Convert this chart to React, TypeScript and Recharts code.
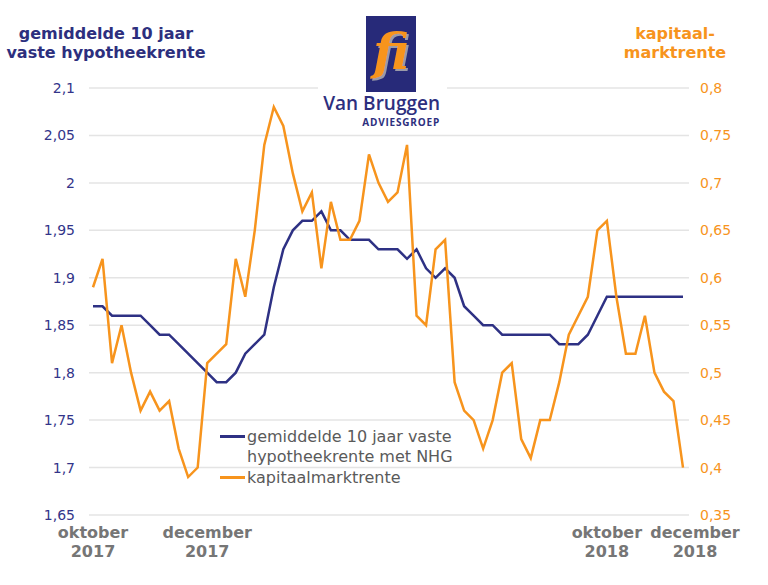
import React from 'react';
import { LineChart, Line, XAxis, YAxis, CartesianGrid, Legend } from 'recharts';

const categories = [
  '2017-W40', '2017-W41', '2017-W42', '2017-W43', '2017-W44', '2017-W45', '2017-W46', '2017-W47',
  '2017-W48', '2017-W49', '2017-W50', '2017-W51', '2017-W52',
  '2018-W01', '2018-W02', '2018-W03', '2018-W04', '2018-W05', '2018-W06', '2018-W07', '2018-W08',
  '2018-W09', '2018-W10', '2018-W11', '2018-W12', '2018-W13', '2018-W14', '2018-W15', '2018-W16',
  '2018-W17', '2018-W18', '2018-W19', '2018-W20', '2018-W21', '2018-W22', '2018-W23', '2018-W24',
  '2018-W25', '2018-W26', '2018-W27', '2018-W28', '2018-W29', '2018-W30', '2018-W31', '2018-W32',
  '2018-W33', '2018-W34', '2018-W35', '2018-W36', '2018-W37', '2018-W38', '2018-W39', '2018-W40',
  '2018-W41', '2018-W42', '2018-W43', '2018-W44', '2018-W45', '2018-W46', '2018-W47', '2018-W48',
  '2018-W49', '2018-W50',
];

const hypotheekrente = [
  1.87, 1.87, 1.86, 1.86, 1.86, 1.86, 1.85, 1.84, 1.84, 1.83, 1.82, 1.81, 1.80, 1.79, 1.79, 1.80,
  1.82, 1.83, 1.84, 1.89, 1.93, 1.95, 1.96, 1.96, 1.97, 1.95, 1.95, 1.94, 1.94, 1.94, 1.93, 1.93,
  1.93, 1.92, 1.93, 1.91, 1.90, 1.91, 1.90, 1.87, 1.86, 1.85, 1.85, 1.84, 1.84, 1.84, 1.84, 1.84,
  1.84, 1.83, 1.83, 1.83, 1.84, 1.86, 1.88, 1.88, 1.88, 1.88, 1.88, 1.88, 1.88, 1.88, 1.88,
];

const kapitaalmarktrente = [
  0.59, 0.62, 0.51, 0.55, 0.50, 0.46, 0.48, 0.46, 0.47, 0.42, 0.39, 0.40, 0.51, 0.52, 0.53, 0.62,
  0.58, 0.65, 0.74, 0.78, 0.76, 0.71, 0.67, 0.69, 0.61, 0.68, 0.64, 0.64, 0.66, 0.73, 0.70, 0.68,
  0.69, 0.74, 0.56, 0.55, 0.63, 0.64, 0.49, 0.46, 0.45, 0.42, 0.45, 0.50, 0.51, 0.43, 0.41, 0.45,
  0.45, 0.49, 0.54, 0.56, 0.58, 0.65, 0.66, 0.58, 0.52, 0.52, 0.56, 0.50, 0.48, 0.47, 0.40,
];

const leftTicks = [1.65, 1.7, 1.75, 1.8, 1.85, 1.9, 1.95, 2.0, 2.05, 2.1];
const rightTicks = [0.35, 0.4, 0.45, 0.5, 0.55, 0.6, 0.65, 0.7, 0.75, 0.8];

const xTickCats = ['2017-W40', '2017-W52', '2018-W42', '2018-W50'];
const xTickLabels: Record<string, [string, string]> = {
  '2017-W40': ['oktober', '2017'],
  '2017-W52': ['december', '2017'],
  '2018-W42': ['oktober', '2018'],
  '2018-W50': ['december', '2018'],
};
const xTickShift: Record<string, number> = { '2018-W50': 12 };

const seriesNames = {
  hyp: 'gemiddelde 10 jaar vaste hypotheekrente met NHG',
  kap: 'kapitaalmarktrente',
};

const NAVY = '#2e3184';
const ORANGE = '#f7941d';

const data = categories.map((c, i) => ({
  cat: c,
  hyp: hypotheekrente[i],
  kap: kapitaalmarktrente[i],
}));

const fmt = (v: number) => String(Number(v.toFixed(2))).replace('.', ',');

const XTick = (props: any) => {
  const { x, y, payload } = props;
  const lbl = xTickLabels[payload.value];
  if (!lbl) return null;
  const dx = xTickShift[payload.value] || 0;
  return (
    <text
      x={x + dx}
      y={y}
      textAnchor="middle"
      fill="#767676"
      style={{ fontFamily: 'DejaVu Sans', fontWeight: 'bold', fontSize: 16 }}
    >
      <tspan x={x + dx} dy={23}>{lbl[0]}</tspan>
      <tspan x={x + dx} dy={19}>{lbl[1]}</tspan>
    </text>
  );
};

const renderLegend = (props: any) => {
  const { payload } = props;
  return (
    <div style={{ fontFamily: 'DejaVu Sans', fontSize: 16, color: '#5a5a5a', lineHeight: '20px', textAlign: 'left' }}>
      {(payload || []).map((p: any, i: number) => (
        <div key={i} style={{ display: 'flex', alignItems: 'flex-start', marginBottom: 1 }}>
          <div style={{ width: 25, height: 20, position: 'relative', flex: 'none', marginRight: 2 }}>
            <div style={{ position: 'absolute', left: 0, right: 0, top: 8, height: 2.5, background: p.color }} />
          </div>
          <div style={{ width: 212 }}>{p.value}</div>
        </div>
      ))}
    </div>
  );
};

export default function App() {
  return (
    <div style={{ position: 'absolute', left: 0, top: 0, width: 768, height: 585, background: '#fff', overflow: 'hidden' }}>
      <LineChart width={768} height={585} data={data} margin={{ top: 88, right: 0, bottom: 10, left: 0 }}>
        <CartesianGrid yAxisId="left" vertical={false} stroke="#e4e4e4" strokeWidth={1.5} />
        <XAxis
          dataKey="cat"
          height={60}
          padding={{ left: 4, right: 6 }}
          axisLine={false}
          tickLine={false}
          tickSize={0}
          tickMargin={0}
          ticks={xTickCats}
          interval={0}
          tick={<XTick />}
        />
        <YAxis
          yAxisId="left"
          width={89}
          domain={[1.65, 2.1]}
          ticks={leftTicks}
          axisLine={false}
          tickLine={false}
          tickSize={0}
          tickMargin={14}
          tickFormatter={fmt}
          tick={{ fill: '#33358a', fontSize: 14, fontFamily: 'DejaVu Sans' }}
        />
        <YAxis
          yAxisId="right"
          orientation="right"
          width={79}
          domain={[0.35, 0.8]}
          ticks={rightTicks}
          axisLine={false}
          tickLine={false}
          tickSize={0}
          tickMargin={11}
          tickFormatter={fmt}
          tick={{ fill: ORANGE, fontSize: 14, fontFamily: 'DejaVu Sans' }}
        />
        <Line
          yAxisId="left"
          type="linear"
          dataKey="hyp"
          name={seriesNames.hyp}
          stroke={NAVY}
          strokeWidth={2.5}
          dot={false}
          isAnimationActive={false}
        />
        <Line
          yAxisId="right"
          type="linear"
          dataKey="kap"
          name={seriesNames.kap}
          stroke={ORANGE}
          strokeWidth={2.5}
          dot={false}
          isAnimationActive={false}
        />
        <Legend
          layout="vertical"
          align="center"
          verticalAlign="middle"
          content={renderLegend}
          wrapperStyle={{ position: 'absolute', left: 220, top: 427, width: 245, bottom: 'auto', right: 'auto' }}
        />
      </LineChart>

      {/* titles */}
      <div
        style={{
          position: 'absolute', left: 0, top: 24, width: 212, textAlign: 'center',
          fontFamily: 'DejaVu Sans', fontWeight: 'bold', fontSize: 16, lineHeight: '19px', color: '#2d2f7e',
        }}
      >
        gemiddelde 10 jaar<br />vaste hypotheekrente
      </div>
      <div
        style={{
          position: 'absolute', left: 620, top: 24, width: 110, textAlign: 'center',
          fontFamily: 'DejaVu Sans', fontWeight: 'bold', fontSize: 16, lineHeight: '19px', color: ORANGE,
        }}
      >
        kapitaal-<br />marktrente
      </div>

      {/* logo */}
      <div style={{ position: 'absolute', left: 318, top: 80, width: 129, height: 50, background: '#fff' }} />
      <svg style={{ position: 'absolute', left: 366, top: 16 }} width={50} height={76}>
        <defs>
          <filter id="logoShadow" x="-20%" y="-20%" width="140%" height="140%">
            <feDropShadow dx={2} dy={2} stdDeviation={0.6} floodColor="#9a9aa8" floodOpacity={1} />
          </filter>
        </defs>
        <rect x={0} y={0} width={50} height={76} fill="#272a79" />
        <text x={7} y={53} fontSize={50} fontStyle="italic" fontWeight="bold" fontFamily="DejaVu Serif" fill={ORANGE} filter="url(#logoShadow)">fi</text>
      </svg>
      <div
        style={{
          position: 'absolute', left: 320, top: 94, width: 120, textAlign: 'right',
          fontFamily: 'Open Sans', fontWeight: 600, fontSize: 19, lineHeight: '19px', color: '#2d2f7e',
        }}
      >
        Van Bruggen
      </div>
      <div
        style={{
          position: 'absolute', left: 330, top: 117, width: 110, textAlign: 'right',
          fontFamily: 'Open Sans', fontWeight: 700, fontSize: 10, lineHeight: '10px', letterSpacing: 0.8, color: '#2d2f7e',
        }}
      >
        ADVIESGROEP
      </div>
    </div>
  );
}
